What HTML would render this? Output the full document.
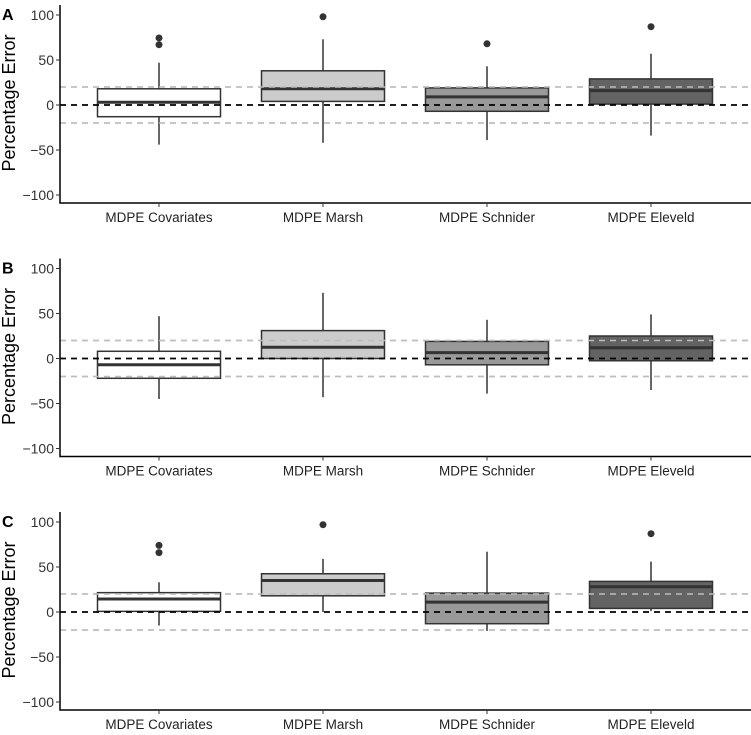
<!DOCTYPE html>
<html><head><meta charset="utf-8"><style>
html,body{margin:0;padding:0;background:#fff}
svg{display:block;font-family:"Liberation Sans",Arial,sans-serif}
</style></head><body>
<svg id="chart" width="751" height="735"></svg>
<script>
const categories=["MDPE Covariates","MDPE Marsh","MDPE Schnider","MDPE Eleveld"];
const fills=["#ffffff","#cccccc","#999999","#636363"];
const panels=["A","B","C"];
const yTicks=[100,50,0,-50,-100];
// per panel: [lowWhisker,q1,median,q3,highWhisker] per category
const statsA=[[-44,-13,3,18,47],[-42,4,18,38,73],[-39,-7,9,19,43],[-34,1,16,29,57]];
const statsB=[[-45,-22,-7,8,47],[-43,0,12.5,31,73],[-39,-7,6.5,19,43],[-35,-2.5,12,25,49]];
const statsC=[[-15,0.7,14.5,21.5,33],[0,18,35,42.5,59],[-21,-13,11,21,67],[1,4,28,34,56]];
const outliersA=[[74.5,67],[98],[68],[87]];
const outliersB=[[],[],[],[]];
const outliersC=[[74,66],[97],[],[87]];
const allStats=[statsA,statsB,statsC];
const allOut=[outliersA,outliersB,outliersC];

const NS="http://www.w3.org/2000/svg";
const svg=document.getElementById('chart');
function mk(tag,attrs,parent){const e=document.createElementNS(NS,tag);for(const k in attrs)e.setAttribute(k,attrs[k]);(parent||svg).appendChild(e);return e;}
const X0=60,X1=751,panelOffset=253.5,zeroA=105,scale=0.9;
function xPos(i){return 159+i*164;}
for(let p=0;p<3;p++){
  const off=p*panelOffset;
  const y=v=>zeroA+off-v*scale;
  const g=mk('g',{});
  
  
  const lbl=mk('text',{x:2,y:20+off,'font-size':16,'font-weight':'bold',fill:'#000'},g);
  lbl.textContent=panels[p];
  
  
  const yt=mk('text',{transform:`translate(15,${y(0)-2}) rotate(-90)`,'text-anchor':'middle','font-size':18,fill:'#000'},g);
  yt.textContent='Percentage Error';
  
  
  [20,-20].forEach(v=>{const l=mk('line',{x1:X0,x2:X1,y1:y(v),y2:y(v),stroke:'#bdbdbd','stroke-width':1.5,'stroke-dasharray':'6,5'},g);
    
    });
  for(let i=0;i<4;i++){
    const s=allStats[p][i],cx=xPos(i),w=123;
    const bg=mk('g',{},g);
    
    
    mk('line',{x1:cx,x2:cx,y1:y(s[4]),y2:y(s[3]),stroke:'#333','stroke-width':1.5},bg);
    mk('line',{x1:cx,x2:cx,y1:y(s[1]),y2:y(s[0]),stroke:'#333','stroke-width':1.5},bg);
    mk('rect',{x:cx-w/2,y:y(s[3]),width:w,height:y(s[1])-y(s[3]),fill:fills[i],stroke:'#333','stroke-width':1.5},bg);
    mk('line',{x1:cx-w/2,x2:cx+w/2,y1:y(s[2]),y2:y(s[2]),stroke:'#333','stroke-width':3},bg);
    allOut[p][i].forEach(v=>{const c=mk('circle',{cx:cx,cy:y(v),r:3.5,fill:'#333'},bg);
      
      });
  }
  [20,-20].forEach(v=>{mk('line',{x1:X0,x2:X1,y1:y(v),y2:y(v),stroke:'#bdbdbd','stroke-width':1.5,'stroke-dasharray':'6,5'},g);});
  const z=mk('line',{x1:X0,x2:X1,y1:y(0),y2:y(0),stroke:'#000','stroke-width':1.8,'stroke-dasharray':'6,5'},g);
  
  
  const ax=mk('path',{d:`M${X0},${5+off} V${203+off} H${X1}`,fill:'none',stroke:'#000','stroke-width':1.5},g);
  
  
  yTicks.forEach(v=>{mk('line',{x1:X0-4,x2:X0,y1:y(v),y2:y(v),stroke:'#333','stroke-width':1},g);
    const t=mk('text',{x:X0-6,y:y(v)+5,'text-anchor':'end','font-size':14,fill:'#333'},g);
    t.textContent=v<0?'\u2212'+(-v):String(v);
    
    });
  categories.forEach((c,i)=>{mk('line',{x1:xPos(i),x2:xPos(i),y1:203+off,y2:207+off,stroke:'#333','stroke-width':1},g);
    const t=mk('text',{x:xPos(i),y:222+off,'text-anchor':'middle','font-size':13.5,fill:'#222'},g);
    t.textContent=c;
    
    });
}
</script>
</body></html>
